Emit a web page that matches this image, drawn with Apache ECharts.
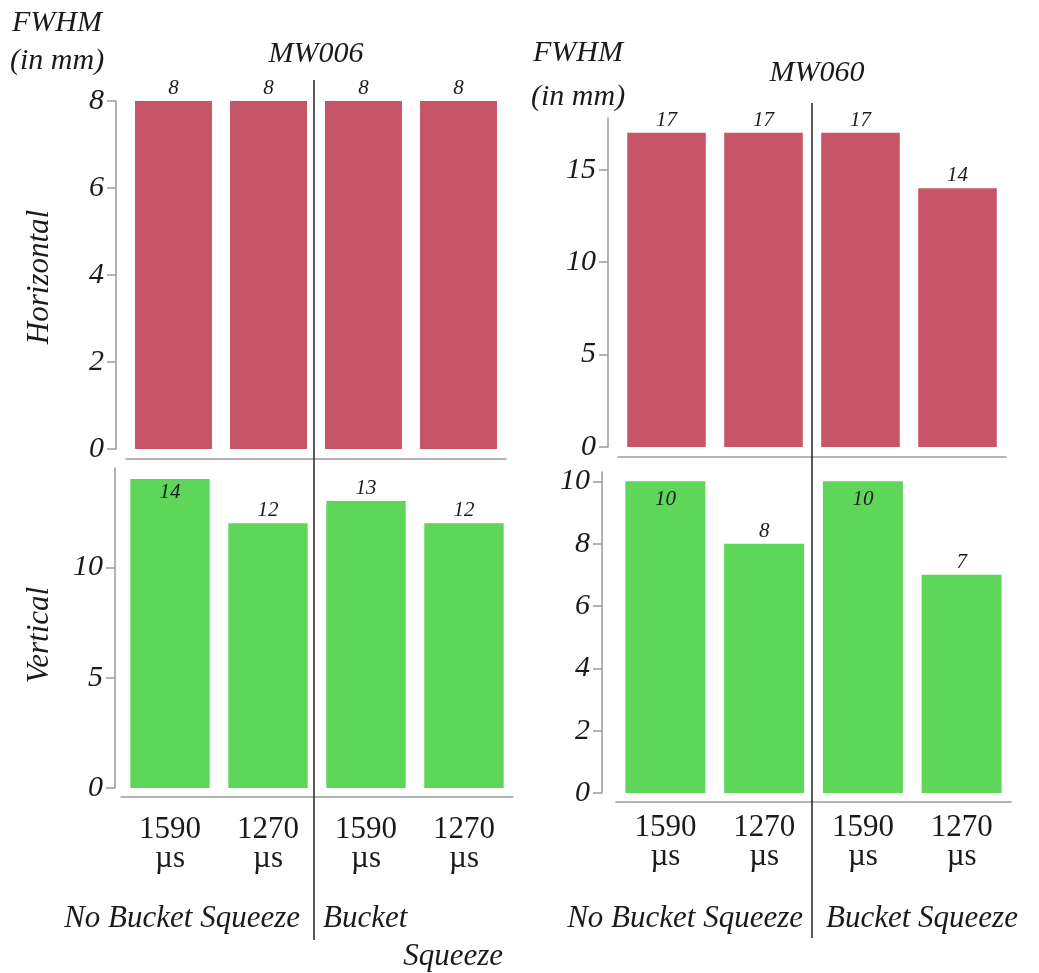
<!DOCTYPE html>
<html>
<head>
<meta charset="utf-8">
<script src="https://cdn.jsdelivr.net/npm/echarts@6/dist/echarts.min.js"></script>
<style>
html,body{margin:0;padding:0;background:#fff;}
#chart{width:1039px;height:973px;}
</style>
</head>
<body>
<div id="chart"></div>
<script>
// ---- data ----
const categories = ['1590\nµs', '1270\nµs', '1590\nµs', '1270\nµs'];
const mw006Horizontal = [8, 8, 8, 8];
const mw006Vertical = [14, 12, 13, 12];
const mw060Horizontal = [17, 17, 17, 14];
const mw060Vertical = [10, 8, 10, 7];
const mw006HorizontalTicks = [0, 2, 4, 6, 8];
const mw006VerticalTicks = [0, 5, 10];
const mw060HorizontalTicks = [0, 5, 10, 15];
const mw060VerticalTicks = [0, 2, 4, 6, 8, 10];
const groupLabels = ['No Bucket Squeeze', 'Bucket Squeeze'];
const panelTitles = ['MW006', 'MW060'];

// ---- style ----
const SERIF = '"Liberation Serif", "DejaVu Serif", serif';
const RED = '#c85468';
const GREEN = '#5dd65a';
const AXIS = '#9a9a9a';
const TEXT = '#1a1a1a';

const chart = echarts.init(document.getElementById('chart'));

const grids = [
  {left: 126, top: 101, width: 380, height: 348},
  {left: 121, top: 468, width: 392, height: 320},
  {left: 618, top: 118, width: 388, height: 329},
  {left: 616, top: 472, width: 395, height: 321}
];
const yCfg = [
  {max: 8, interval: 2, ticks: mw006HorizontalTicks, offset: 10},
  {max: 14.5, interval: 5, ticks: mw006VerticalTicks, offset: 6},
  {max: 17.8, interval: 5, ticks: mw060HorizontalTicks, offset: 10},
  {max: 10.3, interval: 2, ticks: mw060VerticalTicks, offset: 14}
];
const xOffsets = [10, 9, 10, 9];
const xMargins = [10, 18, 10, 11];
const showX = [false, true, false, true];
const seriesData = [mw006Horizontal, mw006Vertical, mw060Horizontal, mw060Vertical];
const colors = [RED, GREEN, RED, GREEN];
// labels drawn inside the bar top (label sits over bar in reference)
const insideLabel = [[], [0], [], [0, 2]];
const insideDist = [0, 3, 0, 8];

const xAxes = grids.map((g, i) => ({
  type: 'category', gridIndex: i, data: categories, offset: xOffsets[i],
  axisLine: {show: true, onZero: false, lineStyle: {color: AXIS, width: 1.5}},
  axisTick: {show: false},
  axisLabel: {
    show: showX[i], interval: 0, margin: xMargins[i],
    fontFamily: SERIF, fontSize: 31, color: TEXT, lineHeight: 29
  }
}));
const yAxes = grids.map((g, i) => ({
  type: 'value', gridIndex: i, min: 0, max: yCfg[i].max, interval: yCfg[i].interval,
  offset: yCfg[i].offset,
  splitLine: {show: false},
  axisLine: {show: true, onZero: false, lineStyle: {color: AXIS, width: 1.5}},
  axisTick: {show: true, length: 9, customValues: yCfg[i].ticks, lineStyle: {color: AXIS, width: 1.5}},
  axisLabel: {
    customValues: yCfg[i].ticks, margin: 12,
    fontFamily: SERIF, fontStyle: 'italic', fontSize: 30, color: TEXT
  }
}));
const series = seriesData.map((vals, i) => ({
  type: 'bar', xAxisIndex: i, yAxisIndex: i, barCategoryGap: '19%',
  itemStyle: {color: colors[i]},
  label: {
    show: true, position: 'top', distance: 2,
    fontFamily: SERIF, fontStyle: 'italic', fontSize: 21, color: TEXT
  },
  data: vals.map((v, j) => insideLabel[i].includes(j)
    ? {value: v, label: {position: 'insideTop', distance: insideDist[i]}}
    : v)
}));

function txt(text, x, y, size, opts) {
  opts = opts || {};
  return {
    type: 'text', x: x, y: y, rotation: opts.rotation || 0, z: 10,
    style: {
      text: text, fill: TEXT, fontFamily: SERIF, fontSize: size,
      fontStyle: opts.italic === false ? 'normal' : 'italic',
      align: opts.align || 'center', verticalAlign: 'middle'
    }
  };
}
function vline(x, y1, y2) {
  return {type: 'line', z: 10, shape: {x1: x, y1: y1, x2: x, y2: y2},
    style: {stroke: '#222', lineWidth: 1.5}};
}

const graphic = [
  vline(314, 80, 940),
  vline(812, 103, 938),
  txt('FWHM', 12, 23, 30, {align: 'left'}),
  txt('(in mm)', 10, 61, 30, {align: 'left'}),
  txt('FWHM', 533, 53, 30, {align: 'left'}),
  txt('(in mm)', 531, 97, 30, {align: 'left'}),
  txt(panelTitles[0], 316, 54, 30),
  txt(panelTitles[1], 817, 73, 30),
  txt('Horizontal', 40, 277, 31, {rotation: Math.PI / 2}),
  txt('Vertical', 40, 635, 31, {rotation: Math.PI / 2}),
  txt(groupLabels[0], 300, 919, 31, {align: 'right'}),
  txt('Bucket', 323, 919, 31, {align: 'left'}),
  txt('Squeeze', 503, 957, 31, {align: 'right'}),
  txt(groupLabels[0], 803, 919, 31, {align: 'right'}),
  txt(groupLabels[1], 826, 919, 31, {align: 'left'})
];

chart.setOption({
  backgroundColor: '#ffffff',
  animation: false,
  grid: grids,
  xAxis: xAxes,
  yAxis: yAxes,
  series: series,
  graphic: graphic
});
</script>
</body>
</html>
